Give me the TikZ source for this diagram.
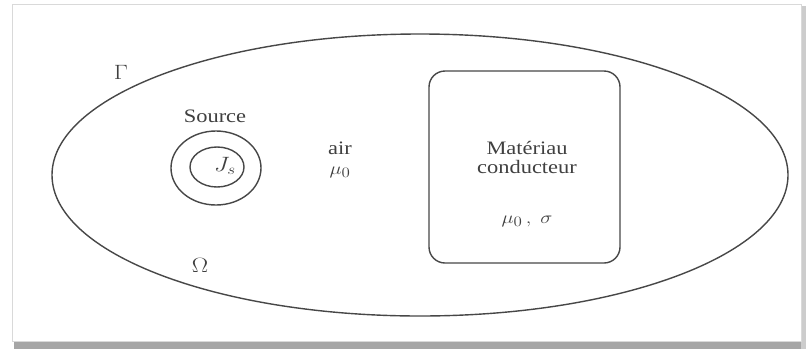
\documentclass[tikz,border=0pt]{standalone}
\usepackage{fontspec}
\setmainfont{Liberation Serif}
\newcommand{\lab}[1]{\scalebox{1.18}[1]{#1}}
\begin{document}
\begin{tikzpicture}[x=1pt,y=-1pt,
  line/.style={draw=black!72, line width=1.4pt},
  lbl/.style={inner sep=0pt, text=black!75, font=\fontsize{19}{22}\selectfont},
  big/.style={font=\fontsize{21}{24}\selectfont}]
\useasboundingbox (0,0) rectangle (806,349);
\fill[white] (0,0) rectangle (806,349);
% frame with shadow
\fill[black!35] (14,341) rectangle (806,349);
\fill[black!20] (801,6) rectangle (806,349);
\draw[black!15, line width=1pt] (12,4) rectangle (801,341);
% domain
\draw[line] (420,175) ellipse [x radius=368, y radius=141];
% source
\draw[line] (216,168) ellipse [x radius=45, y radius=37];
\draw[line] (217,167) ellipse [x radius=27, y radius=20];
\node[lbl, big] (js) at (225,166) {\lab{$J_s$}};
\node[lbl] (src) at (215,116) {\lab{Source}};
% conductor
\node[line, rounded corners=16pt, minimum width=191pt, minimum height=192pt] (cond) at (524.5,167) {};
\node[lbl] (mat) at (527,160) {\lab{\begin{tabular}{@{}c@{}}Matériau\\[-3pt]conducteur\end{tabular}}};
\node[lbl] (musig) at (527,221) {\lab{$\mu_0\,,\;\sigma$}};
% air
\node[lbl] (air) at (340,148) {\lab{air}};
\node[lbl] (mu) at (340,172) {\lab{$\mu_0$}};
% labels
\node[lbl, big] (gamma) at (121,72) {\lab{$\Gamma$}};
\node[lbl, big] (omega) at (200,265) {\lab{$\Omega$}};
\end{tikzpicture}
\end{document}
